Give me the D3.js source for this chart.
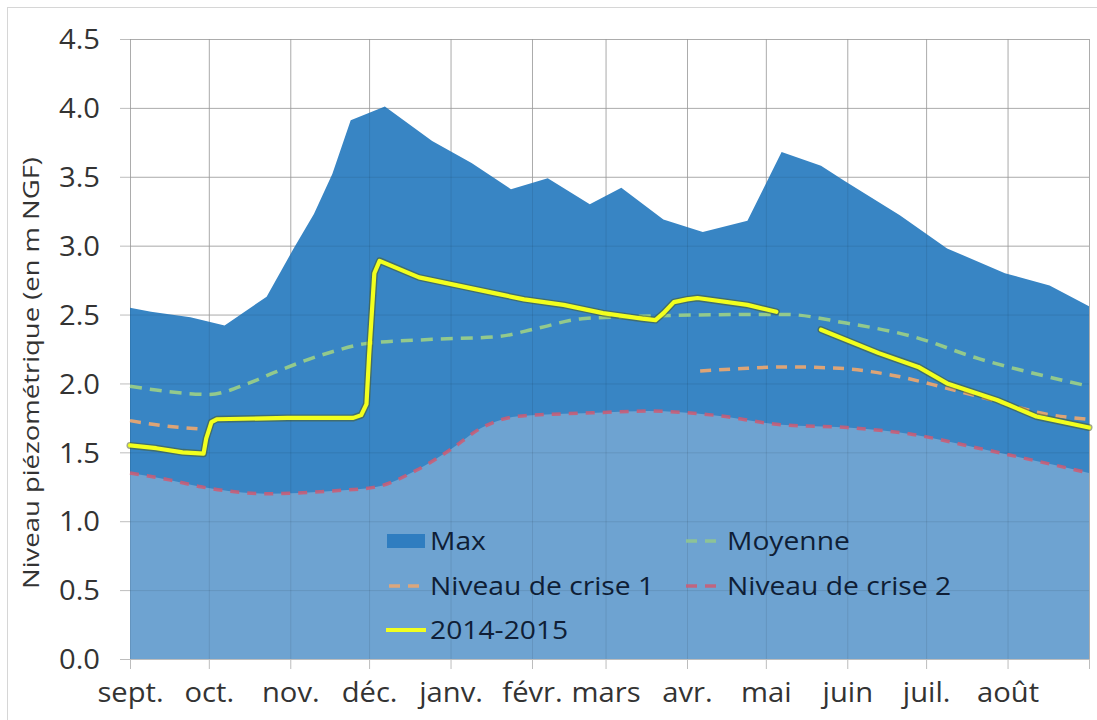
<!DOCTYPE html>
<html><head><meta charset="utf-8">
<script src="https://cdn.jsdelivr.net/npm/d3@7"></script>
<style>body{margin:0;background:#fff}svg{display:block}</style>
</head><body>
<svg id="chart" width="1097" height="720"></svg>
<script>
// ---------------- DATA ----------------
const monthLabels = ["sept.","oct.","nov.","déc.","janv.","févr.","mars","avr.","mai","juin","juil.","août",""];
const yTickValues = [0,0.5,1,1.5,2,2.5,3,3.5,4,4.5];
const seriesNames = ["Max","Moyenne","Niveau de crise 1","Niveau de crise 2","2014-2015"];
const yTitle = "Niveau piézométrique (en m NGF)";

const maxSeries = [
  ["2014-09-01",2.55],["2014-09-09",2.52],["2014-09-24",2.48],["2014-10-07",2.42],
  ["2014-10-23",2.63],["2014-11-02",2.97],["2014-11-10",3.23],["2014-11-17",3.52],
  ["2014-11-24",3.91],["2014-12-07",4.01],["2014-12-25",3.76],["2015-01-09",3.60],
  ["2015-01-24",3.41],["2015-02-07",3.49],["2015-02-23",3.30],["2015-03-07",3.42],
  ["2015-03-23",3.19],["2015-04-07",3.10],["2015-04-24",3.18],["2015-05-07",3.68],
  ["2015-05-22",3.58],["2015-05-31",3.47],["2015-06-21",3.22],["2015-07-09",2.98],
  ["2015-07-31",2.80],["2015-08-17",2.71],["2015-09-01",2.56]
];
const moyenneSeries = [
  ["2014-09-01",1.98],["2014-09-16",1.94],["2014-10-01",1.92],["2014-10-16",2.00],
  ["2014-10-26",2.08],["2014-11-17",2.23],["2014-11-30",2.29],["2014-12-25",2.32],
  ["2015-01-19",2.34],["2015-02-03",2.40],["2015-02-20",2.47],["2015-03-20",2.49],
  ["2015-04-19",2.50],["2015-05-09",2.50],["2015-05-31",2.44],["2015-06-26",2.34],
  ["2015-07-21",2.18],["2015-08-16",2.05],["2015-09-01",1.98]
];
const crise1Series = [
  ["2014-09-01",1.73],["2014-09-15",1.69],["2014-09-28",1.67],
  ["2014-12-31",null],
  ["2015-04-06",2.09],["2015-04-24",2.11],["2015-05-09",2.12],["2015-05-29",2.11],
  ["2015-06-18",2.06],["2015-07-08",1.97],["2015-07-28",1.87],["2015-08-15",1.78],
  ["2015-09-01",1.74]
];
const crise2Series = [
  ["2014-09-01",1.35],["2014-09-16",1.30],["2014-09-28",1.25],["2014-10-23",1.20],
  ["2014-11-17",1.22],["2014-12-04",1.25],["2014-12-19",1.37],["2015-01-01",1.52],
  ["2015-01-13",1.68],["2015-01-26",1.76],["2015-02-13",1.78],["2015-02-28",1.79],
  ["2015-03-17",1.80],["2015-04-11",1.77],["2015-05-07",1.70],["2015-06-01",1.68],
  ["2015-06-26",1.63],["2015-07-21",1.53],["2015-08-16",1.42],["2015-09-01",1.35]
];
const series2014 = [
  ["2014-09-01",1.55],["2014-09-11",1.53],["2014-09-21",1.50],["2014-09-29",1.49],
  ["2014-09-30",1.60],["2014-10-02",1.72],["2014-10-04",1.74],["2014-10-31",1.75],
  ["2014-11-25",1.75],["2014-11-28",1.77],["2014-11-30",1.85],["2014-12-01",2.20],
  ["2014-12-03",2.80],["2014-12-05",2.89],["2014-12-10",2.85],["2014-12-20",2.77],
  ["2015-01-04",2.71],["2015-01-19",2.65],["2015-01-29",2.61],["2015-02-13",2.57],
  ["2015-02-28",2.51],["2015-03-15",2.47],["2015-03-20",2.46],["2015-03-23",2.51],
  ["2015-03-27",2.59],["2015-04-01",2.61],["2015-04-05",2.62],["2015-04-24",2.57],
  ["2015-05-05",2.52],
  ["2015-05-13",null],
  ["2015-05-22",2.39],["2015-06-13",2.22],["2015-06-28",2.12],["2015-07-09",2.00],
  ["2015-07-28",1.88],["2015-08-12",1.76],["2015-09-01",1.68]
];

// ---------------- STYLE ----------------
const FONT = "'Open Sans', sans-serif";
const C_MAX = "#3885C4", C_MIN = "#6EA3D1";
const C_MOY = "#93C98C", C_C1 = "#EFA76E", C_C2 = "#CF5A72", C_Y = "#F2FF1E";

const svg = d3.select("#chart");
const W = 1097, H = 720;
const m = {left:130, right:1089, top:39, bottom:659};
const parse = d3.utcParse("%Y-%m-%d");
const toPts = arr => arr.map(d => ({date: parse(d[0]), v: d[1]}));

const x = d3.scaleUtc()
  .domain([parse("2014-09-01"), parse("2015-09-01")])
  .range([m.left, m.right]);
const y = d3.scaleLinear().domain([0,4.5]).range([m.bottom, m.top]);

// outer frame
svg.append("rect").attr("x",7.5).attr("y",7.5).attr("width",W).attr("height",H)
  .attr("fill","#fff").attr("stroke","#D6D6D6");

const monthTicks = d3.utcMonth.range(parse("2014-09-01"), parse("2015-09-02"));

function drawGrid(cls, stroke, op){
  const g = svg.append("g").attr("class",cls);
  g.append("g").attr("transform",`translate(${m.left},0)`)
    .call(d3.axisLeft(y).tickValues(yTickValues).tickSize(-(m.right-m.left)).tickFormat(""))
    .call(s=>s.select(".domain").remove())
    .selectAll("line").attr("stroke",stroke).attr("stroke-opacity",op);
  g.append("g").attr("transform",`translate(0,${m.top})`)
    .call(d3.axisBottom(x).tickValues(monthTicks).tickSize(m.bottom-m.top).tickFormat(""))
    .call(s=>s.select(".domain").remove())
    .selectAll("line").attr("stroke",stroke).attr("stroke-opacity",op);
}
drawGrid("grid", "#BDBDBD", 1);

// areas
const maxPts = toPts(maxSeries), c2Pts = toPts(crise2Series);
svg.append("path").datum(maxPts)
  .attr("d", d3.area().x(d=>x(d.date)).y0(y(0)).y1(d=>y(d.v)))
  .attr("fill", C_MAX);
svg.append("path").datum(c2Pts)
  .attr("d", d3.area().curve(d3.curveMonotoneX).x(d=>x(d.date)).y0(y(0)).y1(d=>y(d.v)))
  .attr("fill", C_MIN);

// faint grid over areas
drawGrid("grid2", "#000", 0.09);

// axes ticks & labels
const sx = 1.08;
const yAx = svg.append("g").attr("transform",`translate(${m.left},0)`)
  .call(d3.axisLeft(y).tickValues(yTickValues).tickFormat(d3.format(".1f")).tickSize(10).tickPadding(20));
yAx.select(".domain").remove();
yAx.selectAll("line").attr("stroke","#BDBDBD");
yAx.selectAll("text").attr("font-family",FONT).attr("font-size",27).attr("fill","#333")
  .attr("x", -30/sx).attr("dy","0.36em").attr("transform",`scale(${sx},1)`);

const xAx = svg.append("g").attr("transform",`translate(0,${m.bottom})`)
  .call(d3.axisBottom(x).tickValues(monthTicks).tickFormat((d,i)=>monthLabels[i]).tickSize(10).tickPadding(14));
xAx.select(".domain").attr("stroke","#BDBDBD");
xAx.selectAll("line").attr("stroke","#BDBDBD");
xAx.selectAll("text").attr("font-family",FONT).attr("font-size",27).attr("fill","#333")
  .attr("dy","0.71em").attr("transform",`scale(${sx},1)`);

// y title
const tt = svg.append("text").attr("font-family",FONT).attr("font-size",22).attr("fill","#333")
  .attr("text-anchor","middle").text(yTitle);
const tl = tt.node().getComputedTextLength();
tt.attr("transform",`translate(39,373) rotate(-90) scale(${432/tl},1)`);

// lines
const line = d3.line().defined(d=>d.v!==null).curve(d3.curveMonotoneX).x(d=>x(d.date)).y(d=>y(d.v));
const lineLin = d3.line().defined(d=>d.v!==null).x(d=>x(d.date)).y(d=>y(d.v));
svg.append("path").datum(toPts(crise2Series)).attr("d",line).attr("fill","none")
  .attr("stroke",C_C2).attr("stroke-width",3.5).attr("stroke-dasharray","9,8").attr("stroke-opacity",0.85);
svg.append("path").datum(toPts(moyenneSeries)).attr("d",line).attr("fill","none")
  .attr("stroke",C_MOY).attr("stroke-width",3.5).attr("stroke-dasharray","12,8");
svg.append("path").datum(toPts(crise1Series)).attr("d",line).attr("fill","none")
  .attr("stroke",C_C1).attr("stroke-width",3.5).attr("stroke-dasharray","11,8").attr("stroke-opacity",0.9);
const yPts = toPts(series2014);
svg.append("path").datum(yPts).attr("d",lineLin).attr("fill","none")
  .attr("stroke","#4a5518").attr("stroke-width",7).attr("stroke-opacity",0.5)
  .attr("stroke-linejoin","round").attr("stroke-linecap","round");
svg.append("path").datum(yPts).attr("d",lineLin).attr("fill","none")
  .attr("stroke",C_Y).attr("stroke-width",4.2).attr("stroke-linejoin","round").attr("stroke-linecap","round");

// legend
const leg = svg.append("g");
const legItems = [
  {name:seriesNames[0], col:0, row:0, type:"rect", color:C_MAX},
  {name:seriesNames[1], col:1, row:0, type:"dash", color:C_MOY},
  {name:seriesNames[2], col:0, row:1, type:"dash", color:C_C1},
  {name:seriesNames[3], col:1, row:1, type:"dash", color:C_C2},
  {name:seriesNames[4], col:0, row:2, type:"line", color:C_Y}
];
const colX = [386, 683], rowY = [541, 586, 630];
legItems.forEach(it=>{
  const x0 = colX[it.col], yc = rowY[it.row];
  if(it.type==="rect"){
    leg.append("rect").attr("x",x0+1).attr("y",yc-7).attr("width",38).attr("height",14).attr("fill","#2F7DC0");
  } else if(it.type==="dash"){
    leg.append("line").attr("x1",x0).attr("x2",x0+40).attr("y1",yc).attr("y2",yc)
      .attr("stroke",it.color).attr("stroke-width",3.5).attr("stroke-dasharray","11,8").attr("stroke-dashoffset",-3).attr("stroke-opacity",0.85);
  } else {
    leg.append("line").attr("x1",x0).attr("x2",x0+40).attr("y1",yc).attr("y2",yc)
      .attr("stroke",it.color).attr("stroke-width",4);
  }
  leg.append("text").attr("font-family",FONT).attr("font-size",25).attr("fill","#0F1E36")
    .attr("transform",`translate(${x0+44},${yc+9}) scale(1.13,1)`).text(it.name);
});
</script>
</body></html>
